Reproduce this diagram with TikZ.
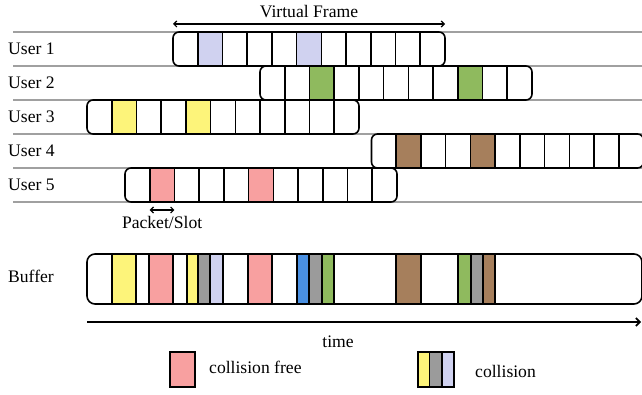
\documentclass[tikz,border=0pt]{standalone}
\usepackage{fontspec}
\setmainfont{Liberation Serif}
\usepackage{tikz}
\usetikzlibrary{positioning,arrows.meta}
\definecolor{slotPurple}{HTML}{D0D2F0}
\definecolor{slotGreen}{HTML}{8FBA5E}
\definecolor{slotYellow}{HTML}{FDF47A}
\definecolor{slotBrown}{HTML}{A67F5C}
\definecolor{slotPink}{HTML}{F8A0A0}
\definecolor{slotGray}{HTML}{9B9B9B}
\definecolor{slotBlue}{HTML}{4A90E2}
\definecolor{laneGray}{HTML}{A0A0A0}

\begin{document}
\begin{tikzpicture}[x=1pt, y=-1pt,
    font=\fontsize{17.6}{20}\selectfont,
    laneLine/.style={draw=laneGray, line width=1.4pt},
    frameBox/.style={rectangle, rounded corners=6pt, draw=black, fill=white, line width=1.6pt, minimum width=272pt, minimum height=34pt, inner sep=0pt, outer sep=0pt, anchor=north west},
    slotLine/.style={draw=black, line width=1.6pt},
    bufferBox/.style={rectangle, rounded corners=8pt, draw=black, fill=white, line width=1.6pt, minimum width=555pt, minimum height=50pt, inner sep=0pt, outer sep=0pt, anchor=north west},
    userLabel/.style={anchor=west, inner sep=0pt},
    dimArrow/.style={{Straight Barb[length=3pt,width=6pt]}-{Straight Barb[length=3pt,width=6pt]}, line width=1.2pt},
    timeArrow/.style={-{Straight Barb[length=4pt,width=8pt]}, line width=1.6pt},
    legendBox/.style={rectangle, draw=black, line width=1.6pt, minimum height=35pt, inner sep=0pt, outer sep=0pt}
]
    \useasboundingbox (0,0) rectangle (642,395);

    \foreach \i in {0,...,5}
        \draw[laneLine] (13,32+34*\i) -- (642,32+34*\i);

    \foreach \i/\xo/\ca/\cb/\col in {1/173/2/6/slotPurple, 2/260/3/9/slotGreen, 3/87/2/5/slotYellow, 4/371.5/2/5/slotBrown, 5/125/2/6/slotPink} {
        \node[userLabel] (label\i) at (8,15+34*\i) {User \i};
        \node[frameBox] (user\i) at (\xo,-2+34*\i) {};
        \foreach \k in {\ca,\cb}
            \filldraw[slotLine, fill=\col] ([xshift=\k*24.727pt-24.727pt]user\i.north west) rectangle ([xshift=\k*24.727pt]user\i.south west);
        \foreach \k in {1,...,10}
            \draw[slotLine] ([xshift=\k*24.727pt]user\i.north west) -- ([xshift=\k*24.727pt]user\i.south west);
    }

    \draw[dimArrow] ([yshift=8pt]user1.north west) -- node[above=2.5pt] (vfLabel) {Virtual Frame} ([yshift=8pt]user1.north east);
    \draw[dimArrow] ([xshift=24.727pt, yshift=-8pt]user5.south west) -- node[below=2pt] (psLabel) {Packet/Slot} ([xshift=49.454pt, yshift=-8pt]user5.south west);

    \node[userLabel] (bufLabel) at (8,276) {Buffer};
    \node[bufferBox] (buffer) at (87,254) {};
    \foreach \a/\b/\col in {112/136/slotYellow, 149/173/slotPink, 187/198/slotYellow, 198/210/slotGray, 210/223/slotPurple, 248/272/slotPink, 297/309/slotBlue, 309/322/slotGray, 322/334/slotGreen, 396/421/slotBrown, 458/471/slotGreen, 471/483/slotGray, 483/495/slotBrown}
        \filldraw[slotLine, fill=\col] (\a,254) rectangle (\b,304);

    \coordinate (timeEnd) at (641,322);
    \draw[timeArrow] ([yshift=-18pt]buffer.south west) -- (timeEnd);
    \node (timeLabel) at (338,342) {time};

    \node[legendBox, minimum width=25pt, fill=slotPink] (legFree) at (182.5,369.5) {};
    \node[right=12pt of legFree, inner sep=2pt, yshift=2pt] (legFreeText) {collision free};
    \node[legendBox, minimum width=11.5pt, fill=slotYellow] (legColA) at (423.75,369.5) {};
    \node[legendBox, minimum width=12.5pt, fill=slotGray, right=0pt of legColA] (legColB) {};
    \node[legendBox, minimum width=12pt, fill=slotPurple, right=0pt of legColB] (legColC) {};
    \node[right=19pt of legColC, inner sep=2pt, yshift=-1.5pt] (legColText) {collision};
\end{tikzpicture}
\end{document}
